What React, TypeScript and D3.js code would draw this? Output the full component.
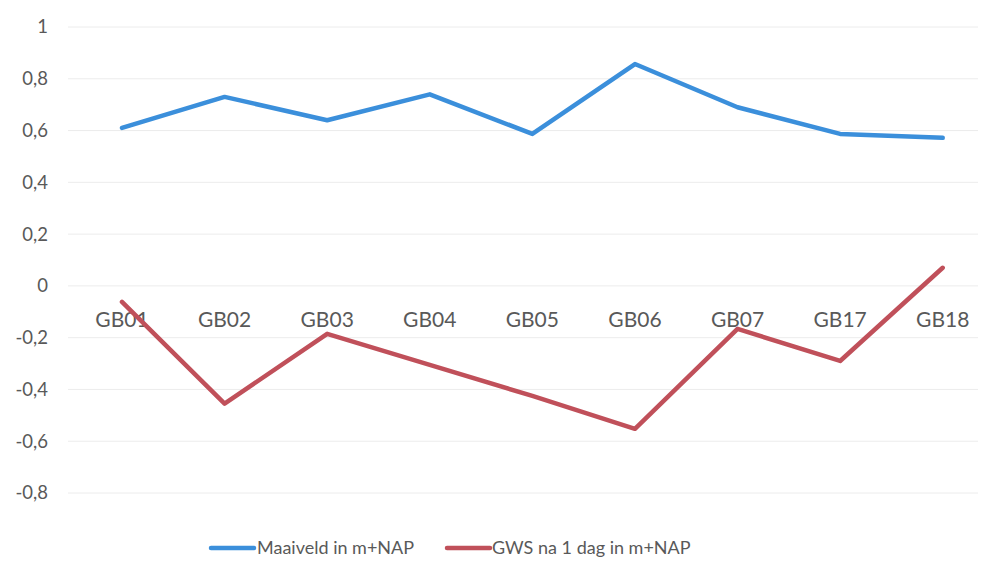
import React from "react";
import * as d3 from "d3";

const categories = ["GB01", "GB02", "GB03", "GB04", "GB05", "GB06", "GB07", "GB17", "GB18"];
const maaiveld = [0.61, 0.73, 0.64, 0.74, 0.587, 0.857, 0.69, 0.587, 0.572];
const gws = [-0.062, -0.455, -0.185, -0.305, -0.425, -0.552, -0.166, -0.29, 0.07];
const yTicks = [1, 0.8, 0.6, 0.4, 0.2, 0, -0.2, -0.4, -0.6, -0.8];

const W = 1001;
const H = 585;
const BLUE = "#3b8fdb";
const RED = "#c0505a";
const TEXT = "#595959";
const FONT = "Lato, 'Open Sans', sans-serif";

export default function App() {
  const x = d3.scaleBand<string>().domain(categories).range([70.7, 994]);
  const y = d3.scaleLinear().domain([-0.8, 1]).range([493, 27]);
  const cx = (c: string) => (x(c) as number) + x.bandwidth() / 2;
  const line = d3
    .line<number>()
    .x((_, i) => cx(categories[i]))
    .y((d) => y(d));
  const fmt = (v: number) => (Math.round(v * 10) / 10).toString().replace(".", ",");

  return (
    <svg width={W} height={H} style={{ position: "absolute", left: 0, top: 0, background: "#fff" }}>
      <rect x={0} y={0} width={W} height={H} fill="#fff" />
      {yTicks.map((t) => (
        <g key={t}>
          <line x1={68} x2={978} y1={y(t)} y2={y(t)} stroke="#ececec" strokeWidth={1} />
          <text
            x={48}
            y={y(t)}
            dy="0.35em"
            textAnchor="end"
            fontFamily={FONT}
            fontSize={18.5}
            fill={TEXT}
          >
            {fmt(t)}
          </text>
        </g>
      ))}
      {categories.map((c) => (
        <text
          key={c}
          x={cx(c)}
          y={y(0) + 41}
          textAnchor="middle"
          fontFamily={FONT}
          fontSize={21}
          fill={TEXT}
        >
          {c}
        </text>
      ))}
      <path d={line(maaiveld) || ""} fill="none" stroke={BLUE} strokeWidth={4.5} strokeLinejoin="round" strokeLinecap="round" />
      <path d={line(gws) || ""} fill="none" stroke={RED} strokeWidth={4.5} strokeLinejoin="round" strokeLinecap="round" />
      <g fontFamily={FONT} fontSize={18} fill={TEXT}>
        <line x1={211} x2={254} y1={548} y2={548} stroke={BLUE} strokeWidth={4.5} strokeLinecap="round" />
        <text x={257} y={548} dy="0.35em">Maaiveld in m+NAP</text>
        <line x1={447} x2={490} y1={548} y2={548} stroke={RED} strokeWidth={4.5} strokeLinecap="round" />
        <text x={492} y={548} dy="0.35em">GWS na 1 dag in m+NAP</text>
      </g>
    </svg>
  );
}
